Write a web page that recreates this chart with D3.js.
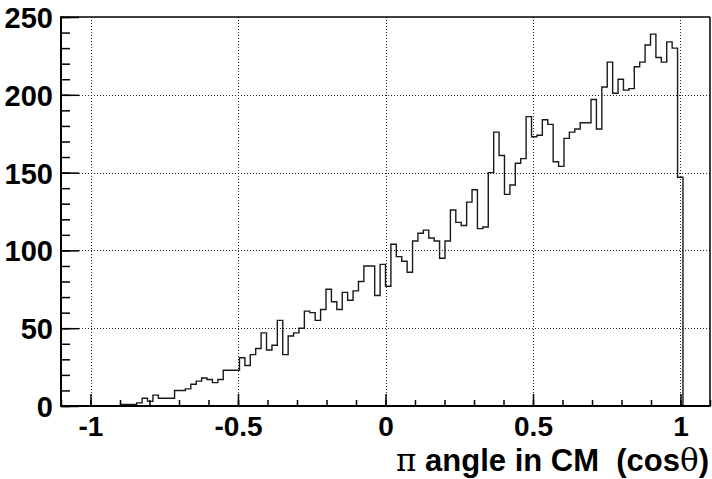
<!DOCTYPE html>
<html>
<head>
<meta charset="utf-8">
<script src="https://cdn.jsdelivr.net/npm/d3@7"></script>
<style>
  html, body { margin: 0; padding: 0; background: #fff; }
  svg { display: block; }
  text { font-family: "Liberation Sans", Arial, Helvetica, sans-serif; font-weight: bold; fill: #000; }
</style>
</head>
<body>
<svg id="chart" width="712" height="479"></svg>
<script>
// Histogram definition: 120 bins on [-1.1, 1.1]
const nBins = 120;
const xMin = -1.1;
const xMax = 1.1;
// Bin contents (bin 0 .. bin 119)
const counts = [
  0,0,0,0,0,0,0,0,0,0,0,
  1,1,1,2,5,3,7,5,5,5,
  10,10,11,14,16,18,17,15,17,23,
  23,23,31,26,33,37,47,36,39,55,
  33,45,47,50,61,60,55,62,75,67,
  62,73,68,74,80,90,90,71,91,77,
  104,96,93,86,106,111,113,108,106,95,
  106,126,118,116,131,139,114,115,150,176,
  161,136,142,156,159,186,173,174,184,181,
  157,154,172,176,178,182,182,197,178,205,
  221,201,210,203,204,218,221,232,239,224,
  221,234,230,147,
  0,0,0,0,0
];
const xMajorTicks = [-1, -0.5, 0, 0.5, 1];
const xTickLabels = ["-1", "-0.5", "0", "0.5", "1"];
const xMinorTicks = [-1.1,-1,-0.9,-0.8,-0.7,-0.6,-0.5,-0.4,-0.3,-0.2,-0.1,0,0.1,0.2,0.3,0.4,0.5,0.6,0.7,0.8,0.9,1,1.1];
const yMajorTicks = [0, 50, 100, 150, 200, 250];
const yMinorTicks = [0,10,20,30,40,50,60,70,80,90,100,110,120,130,140,150,160,170,180,190,200,210,220,230,240,250];
const yMax = 250;

const L = 61, R = 710, T = 17, B = 406;
const svg = d3.select("#chart");
const x = d3.scaleLinear().domain([xMin, xMax]).range([L, R]);
const y = d3.scaleLinear().domain([0, yMax]).range([B, T]);

// grid
const grid = svg.append("g").attr("stroke", "#222").attr("stroke-width", 1).attr("stroke-dasharray", "1,2");
xMajorTicks.forEach(v => grid.append("line")
  .attr("x1", Math.round(x(v)) + 0.5).attr("x2", Math.round(x(v)) + 0.5)
  .attr("y1", T).attr("y2", B));
yMajorTicks.filter(v => v > 0 && v < yMax).forEach(v => grid.append("line")
  .attr("y1", Math.round(y(v)) + 0.5).attr("y2", Math.round(y(v)) + 0.5)
  .attr("x1", L).attr("x2", R));

// histogram
const bw = (xMax - xMin) / nBins;
let first = counts.findIndex(c => c > 0);
let last = counts.length - 1 - [...counts].reverse().findIndex(c => c > 0);
const pts = [[x(xMin + first * bw), y(0)]];
for (let i = first; i <= last; i++) {
  const x0 = x(xMin + i * bw), x1 = x(xMin + (i + 1) * bw);
  pts.push([x0, y(counts[i])]);
  pts.push([x1, y(counts[i])]);
}
pts.push([x(xMin + (last + 1) * bw), y(0)]);
svg.append("path")
  .attr("d", d3.line()(pts))
  .attr("fill", "none")
  .attr("stroke", "#1a1a1a")
  .attr("stroke-width", 1.4);

// axes (ticks pointing inward)
const xAxisMinor = d3.axisBottom(x).tickValues(xMinorTicks).tickSize(-6).tickFormat("");
const xAxisMajor = d3.axisBottom(x).tickValues(xMajorTicks).tickSize(-12).tickPadding(14)
  .tickFormat((d, i) => xTickLabels[i]);
const gxm = svg.append("g").attr("transform", `translate(0,${B})`).call(xAxisMinor);
const gx = svg.append("g").attr("transform", `translate(0,${B})`).call(xAxisMajor);
[gxm, gx].forEach(g => { g.select(".domain").remove(); g.selectAll("line").attr("stroke", "#000").attr("stroke-width", 1.5); });
gx.selectAll("text").style("font-size", "28px").attr("dy", "0").attr("y", 30);

const yAxisMinor = d3.axisLeft(y).tickValues(yMinorTicks).tickSize(-9).tickFormat("");
const yAxisMajor = d3.axisLeft(y).tickValues(yMajorTicks).tickSize(-18).tickPadding(8);
const gym = svg.append("g").attr("transform", `translate(${L},0)`).call(yAxisMinor);
const gy = svg.append("g").attr("transform", `translate(${L},0)`).call(yAxisMajor);
[gym, gy].forEach(g => { g.select(".domain").remove(); g.selectAll("line").attr("stroke", "#000").attr("stroke-width", 1.5); });
gy.selectAll("text").style("font-size", "29px").attr("dy", "0.36em");

// frame
svg.append("line").attr("x1", L).attr("x2", R).attr("y1", T).attr("y2", T).attr("stroke", "#000").attr("stroke-width", 1.5);
svg.append("line").attr("x1", R).attr("x2", R).attr("y1", T).attr("y2", B).attr("stroke", "#000").attr("stroke-width", 1.5);
svg.append("line").attr("x1", L).attr("x2", L).attr("y1", T - 0.75).attr("y2", B + 1).attr("stroke", "#000").attr("stroke-width", 2);
svg.append("line").attr("x1", L - 1).attr("x2", R + 0.75).attr("y1", B).attr("y2", B).attr("stroke", "#000").attr("stroke-width", 2);

// axis title
const title = svg.append("text")
  .attr("x", 709).attr("y", 471)
  .attr("text-anchor", "end")
  .style("font-size", "31px")
  .style("white-space", "pre");
title.append("tspan").style("font-family", "'DejaVu Serif', 'Liberation Serif', serif").style("font-weight", "normal").text("π");
title.append("tspan").text(" angle in CM  (cos");
title.append("tspan").style("font-family", "'DejaVu Serif', 'Liberation Serif', serif").style("font-weight", "normal").text("θ");
title.append("tspan").text(")");
</script>
</body>
</html>
